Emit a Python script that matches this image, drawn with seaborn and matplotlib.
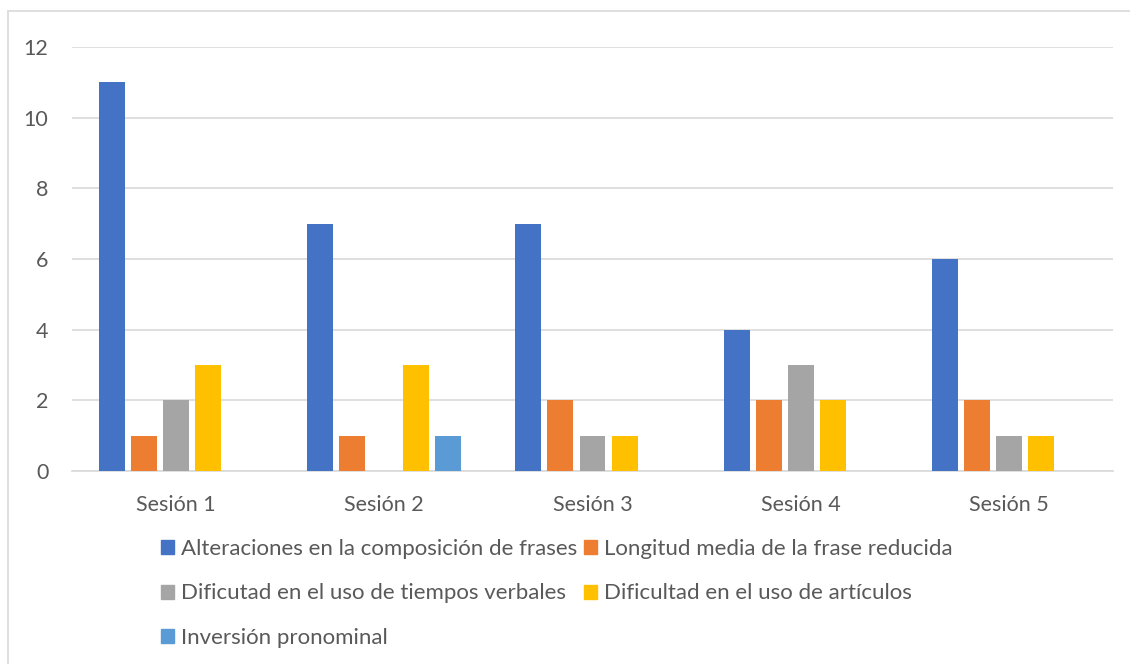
import pandas as pd
import numpy as np
import matplotlib.pyplot as plt
import seaborn as sns
import matplotlib.patches as mpatches
from matplotlib.lines import Line2D

# data
sesiones = ['Sesión 1', 'Sesión 2', 'Sesión 3', 'Sesión 4', 'Sesión 5']
series = ['Alteraciones en la composición de frases',
          'Longitud media de la frase reducida',
          'Dificutad en el uso de tiempos verbales',
          'Dificultad en el uso de artículos',
          'Inversión pronominal']
alteraciones = [11, 7, 7, 4, 6]
longitud = [1, 1, 2, 2, 2]
tiempos = [2, 0, 1, 3, 1]
articulos = [3, 3, 1, 2, 1]
inversion = [0, 1, 0, 0, 0]
yticks = [0, 2, 4, 6, 8, 10, 12]

colors = ['#4472C4', '#ED7D31', '#A5A5A5', '#FFC000', '#5B9BD5']
text_color = '#595959'
grid_color = '#D9D9D9'

#long dataframe for seaborn
rows = []
for name, vals in zip(series, [alteraciones, longitud, tiempos, articulos, inversion]):
    for s, v in zip(sesiones, vals):
        rows.append({'sesion': s, 'serie': name, 'valor': v})
df = pd.DataFrame(rows)

sns.set_style('white')
plt.rcParams['font.family'] = ['Lato', 'DejaVu Sans']

fig = plt.figure(figsize=(11.3, 6.64), dpi=100)
ax = fig.add_axes([72 / 1130, 1 - 471 / 664, (1113 - 72) / 1130, (471 - 47) / 664])

sns.barplot(data=df, x='sesion', y='valor', hue='serie', hue_order=series,
            palette=colors, width=0.77, gap=0.19, linewidth=0, saturation=1,
            errorbar=None, ax=ax, zorder=3)
ax.get_legend().remove()

ax.set_ylim(0, 12)
ax.set_yticks(yticks)
ax.set_xlim(-0.5, 4.5)
ax.set_xlabel('')
ax.set_ylabel('')
ax.yaxis.grid(True, color=grid_color, linewidth=1.2, zorder=0)
ax.set_axisbelow(True)
for sp in ['top', 'right', 'left']:
    ax.spines[sp].set_visible(False)
ax.spines['bottom'].set_color(grid_color)
ax.spines['bottom'].set_linewidth(1.2)
ax.tick_params(axis='y', length=0, labelsize=15.5, labelcolor=text_color, pad=17)
ax.tick_params(axis='x', length=0, labelsize=15.5, labelcolor=text_color, pad=17)

#legend: rows [A,B],[C,D],[E]
handles = [mpatches.Patch(color=c) for c in colors]
order = [0, 2, 4, 1, 3]
fig.legend([handles[i] for i in order], [series[i] for i in order],
           ncol=2, loc='upper left', bbox_to_anchor=(161 / 1130, 1 - 539 / 664),
           frameon=False, fontsize=16, labelcolor=text_color,
           handlelength=0.59, handleheight=0.59, handletextpad=0.32,
           columnspacing=0.3, labelspacing=1.1, borderaxespad=0, borderpad=0)

#chart border
fig.add_artist(Line2D([8 / 1130, 1.0], [1 - 11 / 664, 1 - 11 / 664],
                      transform=fig.transFigure, color=grid_color, linewidth=1.2))
fig.add_artist(Line2D([8 / 1130, 8 / 1130], [0, 1 - 11 / 664],
                      transform=fig.transFigure, color=grid_color, linewidth=1.2))

plt.savefig('out.png', dpi=100)
